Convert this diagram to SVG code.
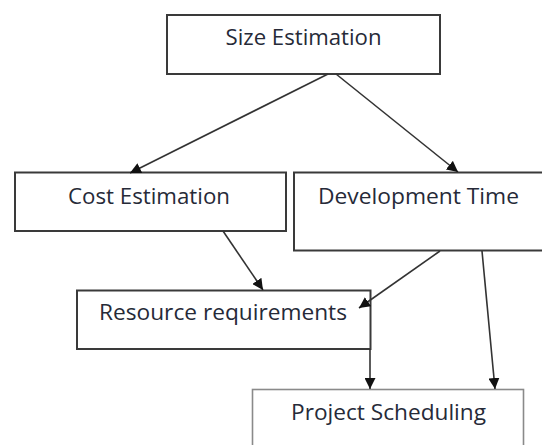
<svg xmlns="http://www.w3.org/2000/svg" width="542" height="445" viewBox="0 0 542 445">
  <defs>
    <style>
      .box { fill: #ffffff; stroke: #3a3a3a; stroke-width: 2; }
      .box2 { fill: #ffffff; stroke: #8a8a8a; stroke-width: 1.6; }
      .lbl { font-family: "Open Sans", "Liberation Sans", sans-serif; font-size: 22px; fill: #262a38; text-anchor: middle; }
      .conn { stroke: #333333; stroke-width: 1.6; fill: none; marker-end: url(#arrow); }
    </style>
    <marker id="arrow" viewBox="0 0 10 10" refX="10" refY="5" markerWidth="11" markerHeight="11" markerUnits="userSpaceOnUse" orient="auto">
      <path d="M0,0 L10,5 L0,10 Z" fill="#111111"/>
    </marker>
  </defs>
  <rect width="542" height="445" fill="#ffffff"/>
  <g id="size-estimation">
    <rect class="box" x="167" y="15" width="273" height="59"/>
    <text class="lbl" x="303.5" y="45" textLength="156" lengthAdjust="spacingAndGlyphs">Size Estimation</text>
  </g>
  <g id="cost-estimation">
    <rect class="box" x="15" y="172.5" width="271" height="58.5"/>
    <text class="lbl" x="149" y="203.5" textLength="162" lengthAdjust="spacingAndGlyphs">Cost Estimation</text>
  </g>
  <g id="development-time">
    <rect class="box" x="294" y="172.5" width="252" height="78"/>
    <text class="lbl" x="418.5" y="204" textLength="201" lengthAdjust="spacingAndGlyphs">Development Time</text>
  </g>
  <g id="resource-requirements">
    <rect class="box" x="77" y="290.5" width="293.5" height="58.5"/>
    <text class="lbl" x="223" y="320" textLength="248" lengthAdjust="spacingAndGlyphs">Resource requirements</text>
  </g>
  <g id="project-scheduling">
    <rect class="box2" x="252.5" y="389.5" width="271" height="70"/>
    <text class="lbl" x="388.5" y="419.5" textLength="195" lengthAdjust="spacingAndGlyphs">Project Scheduling</text>
  </g>
  <g id="connectors">
    <line class="conn" x1="328" y1="74" x2="130" y2="173"/>
    <line class="conn" x1="336" y1="74" x2="458" y2="172"/>
    <line class="conn" x1="223" y1="231" x2="263" y2="290"/>
    <line class="conn" x1="440" y1="251" x2="359" y2="308"/>
    <line class="conn" x1="370" y1="349" x2="370" y2="389"/>
    <line class="conn" x1="482" y1="251" x2="495" y2="389"/>
  </g>
</svg>
